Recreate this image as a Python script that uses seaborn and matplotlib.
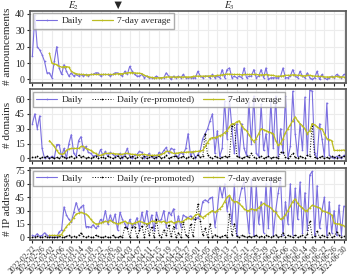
import numpy as np
import pandas as pd
import matplotlib
matplotlib.use("Agg")
import matplotlib.pyplot as plt
import matplotlib.dates as mdates
import matplotlib.transforms as mtransforms
import seaborn as sns

nan = np.nan

# one value per day, 2022-02-22 .. 2022-06-30
dates = pd.date_range("2022-02-22", "2022-06-30", freq="D")

ann_daily = [14, 39, 20, 18, 15, 11, 4, 4, 1, 11,
             20, 7, 3, 9, 5, 2, 4, 2, 3, 2,
             3, 2, 3, 2, 3, 3, 4, 4, 2, 3,
             3, 3, 2, 3, 4, 4, 3, 2, 5, 3,
             8, 5, 3, 2, 2, 3, 1, 2, 1, 1,
             1, 2, 1, 1, 1, 4, 2, 0, 2, 1,
             2, 1, 3, 1, 1, 1, 1, 1, 5, 2,
             1, 2, 2, 1, 3, 1, 2, 1, 6, 1,
             6, 7, 1, 2, 1, 2, 1, 7, 1, 2,
             2, 6, 1, 2, 6, 1, 7, 0, 1, 1,
             1, 1, 2, 7, 1, 1, 2, 6, 2, 1,
             5, 2, 1, 4, 1, 0, 1, 5, 0, 3,
             1, 0, 1, 2, 1, 3, 2, 1, 3]
ann_avg = [nan, nan, nan, nan, nan, nan, nan, 16, 10, 9.5,
           9, 8, 7.5, 7.8, 7.8, 7.5, 5, 4, 3.5, 3.2,
           3, 3, 2.8, 2.8, 3, 3, 3, 3, 3, 3,
           3, 3, 3, 3, 3.2, 3.5, 3.5, 3.5, 3.8, 4,
           4.2, 4.2, 4, 3.8, 3.8, 3.5, 2.5, 2, 1.5, 1.2,
           1, 1, 1, 1, 1.2, 1.5, 1.5, 1.5, 1.5, 1.4,
           1.5, 1.5, 1.5, 1.5, 1.5, 1.5, 1.8, 2, 2, 2,
           2, 2, 2, 2.2, 2.2, 2.2, 2.5, 2.5, 2.8, 3,
           3.2, 3.2, 3, 3, 3, 3, 2.8, 3, 3, 3,
           3, 3, 3, 2.8, 2.8, 2.8, 3, 2.8, 2.5, 2.5,
           2, 2, 2, 2.2, 2.5, 2.5, 2.5, 2.8, 2.8, 2.5,
           2.5, 2.2, 2.2, 2.5, 2.5, 2.2, 2, 2, 1.8, 1.8,
           1.5, 1.5, 1.5, 1.5, 1.5, 1.8, 1.5, 1.5, 1.5]

dom_daily = [35, 45, 30, 43, 10, 0, 2, 0, 2, 0,
             14, 14, 2, 10, 0, 15, 24, 5, 2, 18,
             22, 8, 12, 6, 5, 2, 3, 2, 9, 3,
             7, 2, 6, 4, 2, 3, 5, 0, 4, 10,
             2, 0, 3, 4, 7, 6, 0, 2, 5, 1,
             3, 0, 6, 4, 8, 11, 5, 10, 9, 2,
             2, 6, 4, 10, 25, 2, 7, 0, 4, 8,
             20, 25, 30, 38, 45, 5, 28, 2, 10, 58,
             20, 60, 30, 5, 35, 2, 35, 10, 3, 57,
             15, 63, 5, 2, 55, 8, 25, 2, 58, 10,
             63, 2, 30, 5, 63, 0, 12, 68, 25, 2,
             35, 8, 62, 3, 69, 68, 5, 0, 35, 20,
             2, 56, 3, 1, 0, 2, 1, 0, 3]
dom_repromoted = [1, 1, 2, 0, 1, 1, 2, 0, 1, 0,
                  1, 0, 2, 1, 0, 1, 2, 0, 1, 3,
                  1, 2, 0, 1, 0, 1, 2, 0, 1, 1,
                  0, 2, 1, 0, 1, 2, 0, 1, 2, 0,
                  1, 2, 0, 1, 3, 0, 2, 0, 1, 2,
                  0, 1, 2, 0, 1, 3, 0, 1, 2, 2,
                  0, 1, 2, 0, 1, 2, 0, 1, 3, 1,
                  2, 25, 3, 1, 0, 2, 1, 0, 1, 2,
                  1, 2, 33, 35, 2, 1, 0, 1, 2, 1,
                  5, 1, 0, 1, 2, 0, 1, 2, 0, 1,
                  1, 0, 6, 6, 1, 0, 2, 5, 1, 0,
                  2, 1, 0, 3, 2, 35, 1, 0, 1, 2,
                  0, 1, 0, 2, 1, 0, 3, 1, 2]
dom_avg = [nan, nan, nan, nan, nan, nan, nan, 18, 15, 12,
           8, 5, 4, 5, 8, 9.5, 10, 10, 10, 10,
           12, 12, 10, 9, 8, 6, 5, 3, 3, 4,
           5, 5, 5, 5, 4.5, 4.5, 4, 4, 5, 5,
           4.5, 4, 4, 3.5, 3.5, 4, 4, 3.5, 3, 3,
           3, 3, 3.5, 4, 5, 7, 7, 6, 5, 5,
           5.5, 6, 6, 6, 6.5, 6.5, 6.5, 7, 7, 7.5,
           8, 12, 16, 20, 21, 21, 22, 23, 24, 26,
           28, 32, 35, 35, 37, 38, 33, 30, 28, 24,
           20, 17, 20, 25, 30, 29, 28, 27, 26, 25,
           18, 13, 15, 20, 26, 30, 34, 38, 42, 38,
           35, 33, 30, 25, 28, 35, 34, 32, 30, 30,
           25, 20, 19, 18, 8, 8, 8, 8, 8.5]

ip_daily = [2, 1, 4, 1, 2, 5, 2, 1, 0, 0,
            0, 6, 8, 34, 25, 20, 17, 28, 39, 30,
            34, 36, 12, 12, 11, 14, 10, 13, 20, 17,
            30, 15, 25, 17, 26, 8, 28, 20, 15, 10,
            20, 12, 15, 22, 10, 28, 15, 30, 12, 25,
            8, 28, 18, 20, 30, 12, 28, 25, 32, 10,
            24, 12, 25, 23, 22, 24, 21, 20, 22, 25,
            40, 42, 40, 44, 45, 12, 30, 58, 45, 60,
            30, 45, 15, 60, 2, 42, 55, 62, 30, 5,
            65, 2, 58, 15, 40, 5, 60, 10, 66, 2,
            30, 50, 66, 2, 40, 15, 60, 3, 55, 20,
            62, 5, 50, 8, 70, 74, 2, 58, 10, 30,
            45, 2, 40, 5, 30, 2, 36, 3, 35]
ip_repromoted = [0, 0, 1, 0, 0, 1, 0, 0, 0, 0,
                 0, 1, 0, 0, 1, 2, 0, 1, 0, 2,
                 5, 1, 0, 1, 0, 0, 2, 1, 0, 0,
                 1, 0, 0, 2, 0, 0, 1, 0, 12, 10,
                 0, 11, 12, 0, 8, 13, 0, 15, 2, 12,
                 0, 20, 3, 0, 8, 2, 14, 1, 12, 0,
                 5, 0, 17, 3, 0, 15, 1, 20, 37, 18,
                 2, 10, 0, 15, 0, 3, 1, 0, 1, 2,
                 0, 26, 2, 15, 1, 0, 2, 1, 0, 1,
                 0, 1, 2, 0, 1, 0, 2, 1, 0, 1,
                 3, 0, 1, 5, 0, 2, 1, 0, 3, 0,
                 1, 2, 0, 4, 18, 0, 1, 7, 0, 2,
                 1, 0, 5, 0, 1, 6, 2, 0, 1]
ip_avg = [nan, nan, nan, nan, nan, nan, nan, 2, 2, 2,
          2, 2, 3, 8, 12, 15, 18, 22, 26, 27,
          28, 27, 26, 24, 20, 17, 15, 15, 16, 17,
          18, 17, 19, 17, 16, 15, 16, 17, 18, 16,
          16, 15, 16, 17, 18, 17, 16, 15, 16, 18,
          18, 17, 18, 17, 18, 16, 17, 18, 16, 17,
          18, 17, 18, 20, 22, 20, 22, 25, 26, 24,
          22, 24, 26, 28, 30, 28, 30, 32, 35, 40,
          45, 47, 42, 40, 40, 38, 35, 32, 30, 30,
          32, 31, 31, 33, 36, 38, 36, 35, 33, 30,
          28, 24, 20, 22, 25, 30, 35, 40, 43, 38,
          35, 33, 30, 30, 33, 36, 35, 34, 33, 30,
          29, 28, 27, 25, 16, 15, 15, 14, 13]

events = {"$E_2$": "2022-03-11", "\u25BC": "2022-03-29", "$E_3$": "2022-05-14"}

sns.set_style("whitegrid", {"grid.color": "#ececec", "axes.edgecolor": "#555555",
                            "xtick.bottom": True, "ytick.left": True})
plt.rcParams["font.family"] = ["Liberation Serif", "DejaVu Serif"]
plt.rcParams["mathtext.fontset"] = "stix"
plt.rcParams["axes.linewidth"] = 1.2
plt.rcParams["xtick.major.size"] = 2.5
plt.rcParams["ytick.major.size"] = 2.5
plt.rcParams["xtick.major.width"] = 0.8
plt.rcParams["ytick.major.width"] = 0.8

daily_c = "#7b6fe0"
avg_c = "#bcbd22"

df = pd.DataFrame({"date": dates,
                   "ann_daily": ann_daily, "ann_avg": ann_avg,
                   "dom_daily": dom_daily, "dom_rep": dom_repromoted, "dom_avg": dom_avg,
                   "ip_daily": ip_daily, "ip_rep": ip_repromoted, "ip_avg": ip_avg})

fig, axes = plt.subplots(3, 1, figsize=(3.57, 2.78), dpi=100, sharex=True)
fig.subplots_adjust(left=0.085, right=0.97, top=0.962, bottom=0.137, hspace=0.09)

panels = [("ann", "# announcements", [0, 10, 20, 30, 40], (-2, 42)),
          ("dom", "# domains", [0, 15, 30, 45, 60], (-3, 70)),
          ("ip", "# IP addresses", [0, 15, 30, 45, 60, 75], (-3, 78))]

for ax, (key, ylabel, yticks, ylim) in zip(axes, panels):
    sns.lineplot(data=df, x="date", y=key + "_daily", ax=ax, color=daily_c,
                 linewidth=0.8, marker=".", markersize=2.5, markeredgewidth=0,
                 label="Daily")
    if key != "ann":
        sns.lineplot(data=df, x="date", y=key + "_rep", ax=ax, color="black",
                     linewidth=0.7, linestyle=":", marker=".", markersize=2.5,
                     markeredgewidth=0, label="Daily (re-promoted)")
    sns.lineplot(data=df, x="date", y=key + "_avg", ax=ax, color=avg_c,
                 linewidth=0.9, marker="+", markersize=2, markeredgewidth=0.5,
                 markeredgecolor=avg_c, label="7-day average")
    ax.set_ylabel(ylabel, fontsize=8, labelpad=2)
    ax.set_xlabel("")
    ax.set_yticks(yticks)
    ax.set_ylim(*ylim)
    ax.tick_params(axis="y", labelsize=7, pad=1.5)
    ax.tick_params(axis="x", labelsize=5.5, pad=1)
    ax.legend(loc="upper left", ncol=3, fontsize=6.8, frameon=True, fancybox=False,
              edgecolor="#999999", handlelength=2.2, handletextpad=0.5,
              columnspacing=0.9, borderpad=0.35, borderaxespad=0.3)
    for sp in ax.spines.values():
        sp.set_color("#555555")

ticks = pd.date_range("2022-02-22", "2022-06-30", freq="4D")
axes[-1].set_xticks(ticks)
axes[-1].xaxis.set_major_formatter(mdates.DateFormatter("%Y-%m-%d"))
plt.setp(axes[-1].get_xticklabels(), rotation=45, ha="right", rotation_mode="anchor")
axes[-1].set_xlim(dates[0] - pd.Timedelta(hours=20), dates[-1] + pd.Timedelta(hours=24))

trans = mtransforms.blended_transform_factory(axes[0].transData, axes[0].transAxes)
for txt, day in events.items():
    axes[0].text(pd.Timestamp(day), 1.06, txt, transform=trans, ha="center",
                 va="center", fontsize=7 if txt.startswith("$") else 9)

fig.savefig("out.png", dpi=100)
